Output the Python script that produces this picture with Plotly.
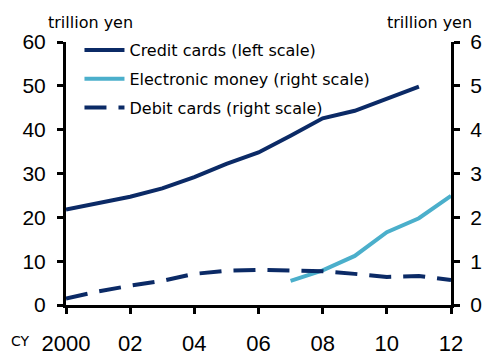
import plotly.graph_objects as go

years = list(range(2000, 2013))
credit_years = list(range(2000, 2012))
credit = [21.8, 23.3, 24.7, 26.6, 29.2, 32.2, 34.8, 38.6, 42.6, 44.3, 47.1, 49.8]
emoney_years = list(range(2007, 2013))
emoney = [0.55, 0.79, 1.12, 1.66, 1.98, 2.49]
debit = [0.15, 0.31, 0.44, 0.55, 0.71, 0.78, 0.80, 0.79, 0.77, 0.71, 0.64, 0.66, 0.57]
tick_vals = [2000, 2002, 2004, 2006, 2008, 2010, 2012]
tick_text = ["2000", "02", "04", "06", "08", "10", "12"]

navy = "#0B2A66"
cyan = "#4BAFCB"
font = "Liberation Sans, Arial, sans-serif"
tfont = "DejaVu Sans, sans-serif"

fig = go.Figure()
fig.add_trace(go.Scatter(x=credit_years, y=credit, mode="lines", name="Credit cards (left scale)",
                         legendgroup="a", line=dict(color=navy, width=4)))
fig.add_trace(go.Scatter(x=emoney_years, y=emoney, mode="lines", name="Electronic money (right scale)",
                         legendgroup="b", line=dict(color=cyan, width=4), yaxis="y2"))
fig.add_trace(go.Scatter(x=years, y=debit, mode="lines", name="Debit cards (right scale)",
                         legendgroup="c", line=dict(color=navy, width=4, dash="22px,12px"),
                         yaxis="y2"))

axis_common = dict(showline=True, linecolor="black", linewidth=3, ticks="outside",
                   ticklen=6, tickwidth=3, tickcolor="black", showgrid=False, zeroline=False,
                   automargin=False)

fig.update_layout(
    width=488, height=355,
    margin=dict(l=66, r=37, t=42, b=50),
    plot_bgcolor="white", paper_bgcolor="white",
    font=dict(family=font, color="black"),
    showlegend=True,
    legend=dict(x=0.035, y=1.034, xanchor="left", yanchor="top", bgcolor="rgba(0,0,0,0)",
                font=dict(size=16, family=tfont), tracegroupgap=5, itemwidth=40),
    xaxis=dict(range=[2000, 2012], tickvals=tick_vals, ticktext=tick_text,
               tickfont=dict(size=22), ticklabelstandoff=11, **axis_common),
    yaxis=dict(range=[0, 60], dtick=10, tickfont=dict(size=21), ticklabelstandoff=7,
               **axis_common),
    yaxis2=dict(range=[0, 6], dtick=1, overlaying="y", side="right",
                tickfont=dict(size=21), ticklabelstandoff=6, **axis_common),
)

pw = 488 - 66 - 37
ph = 355 - 42 - 50
def px(x):
    return (x - 66) / pw
def py(y):
    return (305 - y) / ph

fig.add_annotation(text="trillion yen", x=px(90), y=py(22), xref="paper", yref="paper",
                   showarrow=False, xanchor="center", yanchor="middle",
                   font=dict(size=16, family=tfont))
fig.add_annotation(text="trillion yen", x=px(429), y=py(22), xref="paper", yref="paper",
                   showarrow=False, xanchor="center", yanchor="middle",
                   font=dict(size=16, family=tfont))
fig.add_annotation(text="CY", x=px(20), y=py(341), xref="paper", yref="paper",
                   showarrow=False, xanchor="center", yanchor="middle",
                   font=dict(size=14, family=tfont))

fig.write_html("out.html")
